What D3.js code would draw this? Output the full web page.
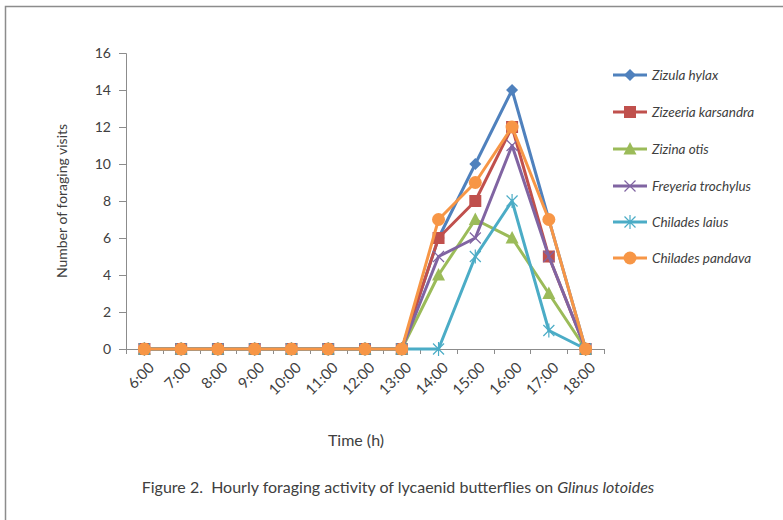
<!DOCTYPE html>
<html>
<head>
<meta charset="utf-8">
<script src="https://cdn.jsdelivr.net/npm/d3@7"></script>
<style>
  body { margin: 0; background: #fff; }
  text { font-family: Lato, "Open Sans", sans-serif; fill: #404040; }
</style>
</head>
<body>
<div id="chart"></div>
<script>
const hours = ['6:00', '7:00', '8:00', '9:00', '10:00', '11:00', '12:00', '13:00', '14:00', '15:00', '16:00', '17:00', '18:00'];
const seriesNames = ['Zizula hylax', 'Zizeeria karsandra', 'Zizina otis', 'Freyeria trochylus', 'Chilades laius', 'Chilades pandava'];
const zizulaHylax = [0, 0, 0, 0, 0, 0, 0, 0, 6, 10, 14, 7, 0];
const zizeeriaKarsandra = [0, 0, 0, 0, 0, 0, 0, 0, 6, 8, 12, 5, 0];
const zizinaOtis = [0, 0, 0, 0, 0, 0, 0, 0, 4, 7, 6, 3, 0];
const freyeriaTrochylus = [0, 0, 0, 0, 0, 0, 0, 0, 5, 6, 11, 5, 0];
const chiladesLaius = [0, 0, 0, 0, 0, 0, 0, 0, 0, 5, 8, 1, 0];
const chiladesPandava = [0, 0, 0, 0, 0, 0, 0, 0, 7, 9, 12, 7, 0];
const yTicks = [0, 2, 4, 6, 8, 10, 12, 14, 16];

const colors = ['#4f81bd', '#c0504d', '#9bbb59', '#8064a2', '#4bacc6', '#f79646'];
const markers = ['diamond', 'square', 'triangle', 'cross', 'star', 'circle'];
const values = [zizulaHylax, zizeeriaKarsandra, zizinaOtis, freyeriaTrochylus, chiladesLaius, chiladesPandava];

const width = 783, height = 520;
const plot = {left: 126, right: 604, top: 53, bottom: 349};

const svg = d3.select('#chart').append('svg')
  .attr('width', width)
  .attr('height', height);

// outer frame
svg.append('rect')
  .attr('x', 5.5).attr('y', 6.5)
  .attr('width', 820).attr('height', 600)
  .attr('fill', 'none')
  .attr('stroke', '#8c8c8c')
  .attr('stroke-width', 1.5);

const band = d3.scaleBand().domain(hours).range([plot.left, plot.right]);
const x = d3.scalePoint().domain(hours).range([plot.left, plot.right]).padding(0.5);
const y = d3.scaleLinear().domain([0, 16]).range([plot.bottom, plot.top]);

// y axis
const yAxis = svg.append('g')
  .attr('transform', 'translate(' + plot.left + ',0)')
  .call(d3.axisLeft(y).tickValues(yTicks).tickSize(7).tickPadding(8));
yAxis.select('.domain').attr('stroke', '#8c8c8c');
yAxis.selectAll('.tick line').attr('stroke', '#8c8c8c');
yAxis.selectAll('.tick text').style('font-size', '14px').attr('fill', '#404040');

// x axis (ticks between categories)
const xg = svg.append('g');
xg.append('line')
  .attr('x1', plot.left).attr('x2', plot.right)
  .attr('y1', plot.bottom + 0.5).attr('y2', plot.bottom + 0.5)
  .attr('stroke', '#8c8c8c');
xg.selectAll('.xt')
  .data(hours.concat(['end']))
  .enter().append('line')
  .attr('x1', (d, i) => Math.round(plot.left + i * band.step()) + 0.5)
  .attr('x2', (d, i) => Math.round(plot.left + i * band.step()) + 0.5)
  .attr('y1', plot.bottom).attr('y2', plot.bottom + 5)
  .attr('stroke', '#8c8c8c');
xg.selectAll('.xl')
  .data(hours)
  .enter().append('text')
  .attr('transform', (d) => 'translate(' + (x(d) + 7) + ',' + (plot.bottom + 16) + ') rotate(-45)')
  .attr('text-anchor', 'end')
  .attr('dy', '0.35em')
  .style('font-size', '15px')
  .text((d) => d);

// lines and markers
const line = d3.line()
  .x((d, i) => x(hours[i]))
  .y((d) => y(d));

function drawMarker(g, type, color) {
  if (type === 'diamond') {
    g.append('path').attr('d', 'M0,-6L6,0L0,6L-6,0Z').attr('fill', color);
  } else if (type === 'square') {
    g.append('rect').attr('x', -6).attr('y', -6).attr('width', 12).attr('height', 12).attr('fill', color);
  } else if (type === 'triangle') {
    g.append('path').attr('d', 'M0,-7L6.5,5.5L-6.5,5.5Z').attr('fill', color);
  } else if (type === 'cross') {
    g.append('path').attr('d', 'M-5.5,-5.5L5.5,5.5M-5.5,5.5L5.5,-5.5').attr('stroke', color).attr('stroke-width', 1.2);
  } else if (type === 'star') {
    g.append('path').attr('d', 'M-5.5,-5.5L5.5,5.5M-5.5,5.5L5.5,-5.5M0,-7L0,7').attr('stroke', color).attr('stroke-width', 1.2);
  } else {
    g.append('circle').attr('r', 6.5).attr('fill', color);
  }
}

values.forEach((vals, s) => {
  const g = svg.append('g');
  g.append('path')
    .datum(vals)
    .attr('d', line)
    .attr('fill', 'none')
    .attr('stroke', colors[s])
    .attr('stroke-width', 3)
    .attr('stroke-linejoin', 'round');
  vals.forEach((v, i) => {
    const m = g.append('g').attr('transform', 'translate(' + x(hours[i]) + ',' + y(v) + ')');
    drawMarker(m, markers[s], colors[s]);
  });
});

// legend
const legendY = [75, 112, 149, 186, 222, 258];
seriesNames.forEach((name, s) => {
  const g = svg.append('g').attr('transform', 'translate(613,' + legendY[s] + ')');
  g.append('line').attr('x1', 0).attr('x2', 34).attr('y1', 0).attr('y2', 0)
    .attr('stroke', colors[s]).attr('stroke-width', 3);
  const m = g.append('g').attr('transform', 'translate(17,0)');
  drawMarker(m, markers[s], colors[s]);
  g.append('text')
    .attr('x', 39).attr('dy', '0.35em')
    .style('font-size', '13.5px')
    .style('font-style', 'italic')
    .text(name);
});

// axis titles
svg.append('text')
  .attr('transform', 'translate(67,' + ((plot.top + plot.bottom) / 2) + ') rotate(-90)')
  .attr('text-anchor', 'middle')
  .style('font-size', '14px')
  .text('Number of foraging visits');

svg.append('text')
  .attr('x', 356).attr('y', 446)
  .attr('text-anchor', 'middle')
  .style('font-size', '16px')
  .text('Time (h)');

// caption
const cap = svg.append('text')
  .attr('x', 398).attr('y', 493)
  .attr('text-anchor', 'middle')
  .attr('xml:space', 'preserve')
  .style('white-space', 'pre')
  .style('font-size', '16px');
cap.append('tspan').text('Figure 2.  Hourly foraging activity of lycaenid butterflies on ');
cap.append('tspan').style('font-style', 'italic').text('Glinus lotoides');
</script>
</body>
</html>
